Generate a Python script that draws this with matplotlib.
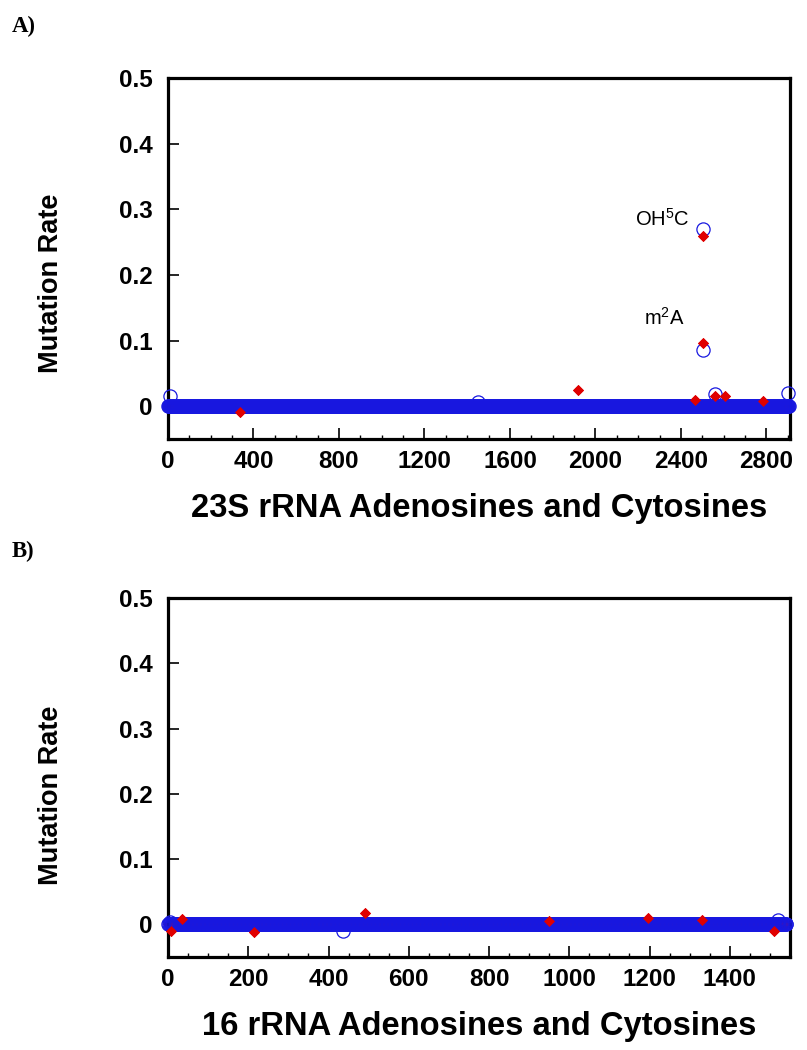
import numpy as np
import matplotlib
matplotlib.use("Agg")
import matplotlib.pyplot as plt
from matplotlib.ticker import MultipleLocator, FuncFormatter

plt.rcParams['font.family'] = ['Liberation Sans', 'DejaVu Sans']
plt.rcParams['mathtext.fontset'] = 'custom'
plt.rcParams['mathtext.rm'] = 'Liberation Sans'
plt.rcParams['mathtext.it'] = 'Liberation Sans'

# ---------------- data ----------------
# 23S rRNA: A/C positions (dense, plotted as baseline ~0 mutation rate)
pos_23S = np.arange(1, 2905, 2)
base_23S_red = np.zeros(len(pos_23S))
base_23S_blue = np.zeros(len(pos_23S))
# visible deviations / peaks (red filled diamonds, blue open circles)
pos_23S_red_peaks = [338, 1920, 2466, 2501, 2503, 2560, 2607, 2785]
val_23S_red_peaks = [-0.009, 0.025, 0.010, 0.260, 0.097, 0.015, 0.015, 0.008]
pos_23S_blue_peaks = [10, 1450, 2501, 2503, 2560, 2900]
val_23S_blue_peaks = [0.015, 0.006, 0.270, 0.085, 0.018, 0.020]

# 16S rRNA
pos_16S = np.arange(1, 1543, 2)
base_16S_red = np.zeros(len(pos_16S))
base_16S_blue = np.zeros(len(pos_16S))
pos_16S_red_peaks = [8, 35, 215, 492, 950, 1195, 1330, 1510]
val_16S_red_peaks = [-0.010, 0.008, -0.011, 0.017, 0.005, 0.009, 0.006, -0.010]
pos_16S_blue_peaks = [5, 435, 1520]
val_16S_blue_peaks = [0.004, -0.010, 0.007]

y_ticks = [0, 0.1, 0.2, 0.3, 0.4, 0.5]
xticks_A = [0, 400, 800, 1200, 1600, 2000, 2400, 2800]
xticks_B = [0, 200, 400, 600, 800, 1000, 1200, 1400]
xlabel_A = "23S rRNA Adenosines and Cytosines"
xlabel_B = "16 rRNA Adenosines and Cytosines"
ylabel = "Mutation Rate"

RED = '#e00000'
BLUE = '#1818e0'

fig = plt.figure(figsize=(8.07, 10.5), dpi=100)
W, H = 807, 1050
axA = fig.add_axes([168 / W, 1 - 439 / H, (790 - 168) / W, (439 - 78) / H])
axB = fig.add_axes([168 / W, 1 - 957 / H, (790 - 168) / W, (957 - 598) / H])


def draw(ax, pos, red_base, blue_base, rp, rv, bp, bv, xmax, xticks, minor, xlabel,
         ylab_y):
    x_red = np.concatenate([pos, rp])
    y_red = np.concatenate([red_base, rv])
    x_blue = np.concatenate([pos, bp])
    y_blue = np.concatenate([blue_base, bv])
    ax.plot(x_red, y_red, linestyle='none', marker='D', markersize=5.4,
            markerfacecolor=RED, markeredgecolor=RED, markeredgewidth=0.5,
            zorder=2, clip_on=False)
    ax.plot(x_blue, y_blue, linestyle='none', marker='o', markersize=9.5,
            markerfacecolor='none', markeredgecolor=BLUE, markeredgewidth=0.9,
            zorder=3, clip_on=False)
    ax.plot(rp, rv, linestyle='none', marker='D', markersize=5.4,
            markerfacecolor=RED, markeredgecolor=RED, markeredgewidth=0.5,
            zorder=4, clip_on=False)
    ax.set_xlim(0, xmax)
    ax.set_ylim(-0.05, 0.5)
    ax.set_yticks(y_ticks)
    ax.yaxis.set_major_formatter(FuncFormatter(lambda v, p: '0' if abs(v) < 1e-9 else f'{v:.1f}'))
    ax.set_xticks(xticks)
    ax.xaxis.set_minor_locator(MultipleLocator(minor))
    ax.tick_params(axis='both', which='major', direction='in', length=8, width=1.2,
                   labelsize=17.5, top=False, right=False)
    ax.tick_params(axis='x', which='major', pad=8)
    ax.tick_params(axis='y', which='major', pad=11)
    ax.tick_params(axis='x', which='minor', direction='in', length=3, width=1.0,
                   top=False)
    ax.tick_params(axis='y', which='minor', left=False, right=False)
    for lab in ax.get_xticklabels() + ax.get_yticklabels():
        lab.set_fontweight('bold')
    for s in ax.spines.values():
        s.set_linewidth(2.3)
    ax.set_xlabel(xlabel, fontsize=23.6, fontweight='bold', labelpad=14)
    ax.set_ylabel(ylabel, fontsize=19.5, fontweight='bold')
    ax.yaxis.set_label_coords(-0.168, ylab_y)


draw(axA, pos_23S, base_23S_red, base_23S_blue, pos_23S_red_peaks, val_23S_red_peaks,
     pos_23S_blue_peaks, val_23S_blue_peaks, 2910, xticks_A, 100, xlabel_A, 0.43)
draw(axB, pos_16S, base_16S_red, base_16S_blue, pos_16S_red_peaks, val_16S_red_peaks,
     pos_16S_blue_peaks, val_16S_blue_peaks, 1550, xticks_B, 50, xlabel_B, 0.45)

axA.text(2311, 0.286, r'OH$^{5}$C', fontsize=14.5, ha='center', va='center')
axA.text(2320, 0.135, r'm$^{2}$A', fontsize=14.5, ha='center', va='center')

fig.text(12 / W, 1 - 16 / H, 'A)', family=['Liberation Serif'], fontweight='bold',
         fontsize=16.5, ha='left', va='top')
fig.text(12 / W, 1 - 541 / H, 'B)', family=['Liberation Serif'], fontweight='bold',
         fontsize=16.5, ha='left', va='top')

fig.savefig('out.png', dpi=100)
